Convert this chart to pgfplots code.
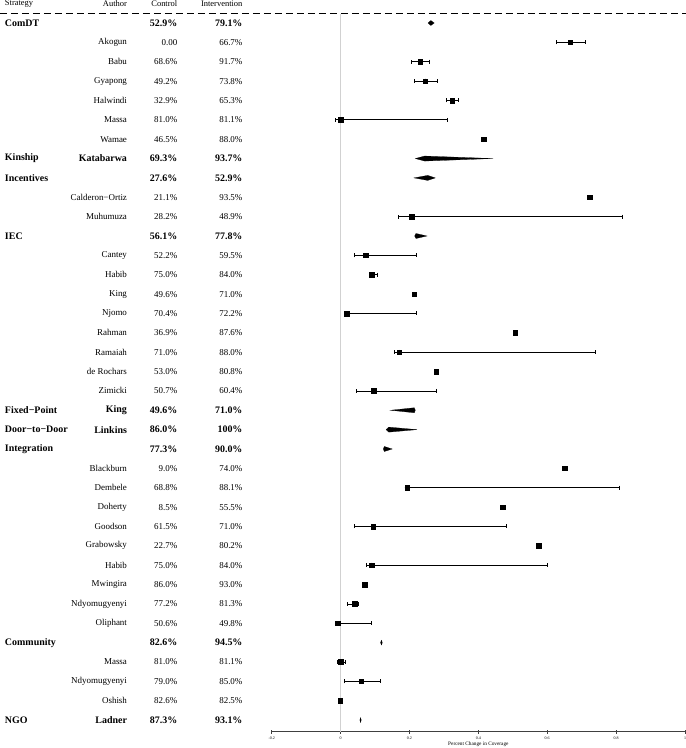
\documentclass[border=0pt]{standalone}
\usepackage{fontspec}
\setmainfont{Liberation Serif}
\usepackage{pgfplots}
\pgfplotsset{compat=1.18}
\usepackage{pgfplotstable}

% study estimates (intervention - control), row 0 is the top row
\pgfplotstableread{
row est
1 0.667
2 0.231
3 0.246
4 0.324
5 0.001
6 0.415
9 0.724
10 0.207
12 0.073
13 0.090
14 0.214
15 0.018
16 0.507
17 0.170
18 0.278
19 0.097
23 0.650
24 0.193
25 0.470
26 0.095
27 0.575
28 0.090
29 0.070
30 0.041
31 -0.008
33 0.001
34 0.060
35 -0.001
}\studies

% studies with a visible interval
\pgfplotstableread{
row est lo hi
1 0.667 0.625 0.711
2 0.231 0.204 0.259
3 0.246 0.213 0.282
4 0.324 0.307 0.343
5 0.001 -0.015 0.310
10 0.207 0.167 0.817
12 0.073 0.041 0.220
13 0.090 0.088 0.108
15 0.018 0.018 0.221
17 0.170 0.155 0.740
19 0.097 0.045 0.278
24 0.193 0.193 0.810
26 0.095 0.040 0.480
28 0.090 0.075 0.601
30 0.041 0.020 0.050
31 -0.008 -0.008 0.090
33 0.001 -0.010 0.015
34 0.060 0.012 0.115
}\intervals

\newcommand{\hdr}{\fontsize{8.5}{10}\selectfont}
\newcommand{\reg}{\fontsize{9}{11}\selectfont}
\newcommand{\bld}{\fontsize{10}{12}\selectfont\bfseries}

% row, author, control, intervention
\newcommand{\study}[4]{%
  \node[anchor=east,font=\reg] at (axis cs:-0.610,-#1) {#2};
  \node[anchor=east,font=\reg] at (axis cs:-0.464,-#1) {#3};
  \node[anchor=east,font=\reg] at (axis cs:-0.2747,-#1) {#4};}
% row, strategy, author, control, intervention
\newcommand{\group}[5]{%
  \node[anchor=west,font=\bld] at (axis cs:-0.9846,-#1) {#2};
  \node[anchor=east,font=\bld] at (axis cs:-0.610,-#1) {#3};
  \node[anchor=east,font=\bld] at (axis cs:-0.464,-#1) {#4};
  \node[anchor=east,font=\bld] at (axis cs:-0.2747,-#1) {#5};}

\begin{document}
\begin{tikzpicture}
\begin{axis}[
  scale only axis,
  width=413.3bp, height=731.7bp,
  xmin=-0.2, xmax=1,
  ymin=-36.6, ymax=1.188,
  axis x line=bottom,
  axis y line=none,
  x axis line style={-, draw=black!75, line width=1.2bp},
  xtick={-0.2,0,0.2,0.4,0.6,0.8,1},
  tick align=center,
  major tick length=4bp,
  tick style={black!75, line width=0.8bp},
  xticklabel style={font=\fontsize{4}{5}\selectfont},
  /pgf/number format/assume math mode=true,
  xlabel={Percent Change in Coverage},
  xlabel style={font=\fontsize{5.3}{6}\selectfont,
    at={(axis description cs:0.5,0)}, anchor=center, yshift=-12.3bp},
  clip=false,
]

% header
\node[anchor=west,font=\hdr] at (axis cs:-0.9846,1.0) {Strategy};
\node[anchor=east,font=\hdr] at (axis cs:-0.610,1.0) {Author};
\node[anchor=east,font=\hdr] at (axis cs:-0.464,1.0) {Control};
\node[anchor=east,font=\hdr] at (axis cs:-0.2747,1.0) {Intervention};
\addplot[black, line width=0.8bp, dash pattern=on 7bp off 4bp] coordinates {(-0.989,0.517) (1.003,0.517)};

% zero line
\addplot[black!18, line width=0.9bp] coordinates {(0,0.45) (0,-36.6)};

% text columns
\group{0}{ComDT}{}{52.9\%}{79.1\%}
\study{1}{Akogun}{0.00}{66.7\%}
\study{2}{Babu}{68.6\%}{91.7\%}
\study{3}{Gyapong}{49.2\%}{73.8\%}
\study{4}{Halwindi}{32.9\%}{65.3\%}
\study{5}{Massa}{81.0\%}{81.1\%}
\study{6}{Wamae}{46.5\%}{88.0\%}
\group{7}{Kinship}{Katabarwa}{69.3\%}{93.7\%}
\group{8}{Incentives}{}{27.6\%}{52.9\%}
\study{9}{Calderon\textminus Ortiz}{21.1\%}{93.5\%}
\study{10}{Muhumuza}{28.2\%}{48.9\%}
\group{11}{IEC}{}{56.1\%}{77.8\%}
\study{12}{Cantey}{52.2\%}{59.5\%}
\study{13}{Habib}{75.0\%}{84.0\%}
\study{14}{King}{49.6\%}{71.0\%}
\study{15}{Njomo}{70.4\%}{72.2\%}
\study{16}{Rahman}{36.9\%}{87.6\%}
\study{17}{Ramaiah}{71.0\%}{88.0\%}
\study{18}{de Rochars}{53.0\%}{80.8\%}
\study{19}{Zimicki}{50.7\%}{60.4\%}
\group{20}{Fixed\textminus Point}{King}{49.6\%}{71.0\%}
\group{21}{Door\textminus to\textminus Door}{Linkins}{86.0\%}{100\%}
\group{22}{Integration}{}{77.3\%}{90.0\%}
\study{23}{Blackburn}{9.0\%}{74.0\%}
\study{24}{Dembele}{68.8\%}{88.1\%}
\study{25}{Doherty}{8.5\%}{55.5\%}
\study{26}{Goodson}{61.5\%}{71.0\%}
\study{27}{Grabowsky}{22.7\%}{80.2\%}
\study{28}{Habib}{75.0\%}{84.0\%}
\study{29}{Mwingira}{86.0\%}{93.0\%}
\study{30}{Ndyomugyenyi}{77.2\%}{81.3\%}
\study{31}{Oliphant}{50.6\%}{49.8\%}
\group{32}{Community}{}{82.6\%}{94.5\%}
\study{33}{Massa}{81.0\%}{81.1\%}
\study{34}{Ndyomugyenyi}{79.0\%}{85.0\%}
\study{35}{Oshish}{82.6\%}{82.5\%}
\group{36}{NGO}{Ladner}{87.3\%}{93.1\%}

% intervals
\addplot[only marks, mark=none,
  error bars/.cd, x dir=both, x explicit,
  error mark=|, error mark options={black, mark size=2bp, line width=0.6bp},
  error bar style={black, line width=0.8bp}]
  table[x=est, y expr=-\thisrow{row},
        x error plus expr=\thisrow{hi}-\thisrow{est},
        x error minus expr=\thisrow{est}-\thisrow{lo}] {\intervals};

% study squares
\addplot[only marks, mark=square*, mark size=2.3bp, black]
  table[x=est, y expr=-\thisrow{row}] {\studies};

% pooled diamonds: lower, estimate, upper
\addplot[fill=black, draw=black, line width=0.2bp] coordinates {(0.254,0) (0.262,0.13) (0.272,0) (0.262,-0.13)} -- cycle;
\addplot[fill=black, draw=black, line width=0.2bp] coordinates {(0.217,-7) (0.244,-6.87) (0.443,-7) (0.244,-7.13)} -- cycle;
\addplot[fill=black, draw=black, line width=0.2bp] coordinates {(0.213,-8) (0.253,-7.87) (0.275,-8) (0.253,-8.13)} -- cycle;
\addplot[fill=black, draw=black, line width=0.2bp] coordinates {(0.215,-11) (0.219,-10.87) (0.251,-11) (0.219,-11.13)} -- cycle;
\addplot[fill=black, draw=black, line width=0.2bp] coordinates {(0.145,-20) (0.214,-19.87) (0.217,-20) (0.214,-20.13)} -- cycle;
\addplot[fill=black, draw=black, line width=0.2bp] coordinates {(0.132,-21) (0.140,-20.87) (0.222,-21) (0.140,-21.13)} -- cycle;
\addplot[fill=black, draw=black, line width=0.2bp] coordinates {(0.124,-22) (0.127,-21.87) (0.150,-22) (0.127,-22.13)} -- cycle;
\addplot[fill=black, draw=black, line width=0.2bp] coordinates {(0.116,-32) (0.119,-31.87) (0.121,-32) (0.119,-32.13)} -- cycle;
\addplot[fill=black, draw=black, line width=0.2bp] coordinates {(0.056,-36) (0.058,-35.87) (0.060,-36) (0.058,-36.13)} -- cycle;

\end{axis}
\pgfresetboundingbox
\path[use as bounding box] (-271.7bp,-16.3bp) rectangle (414.3bp,731.7bp);
\end{tikzpicture}
\end{document}
